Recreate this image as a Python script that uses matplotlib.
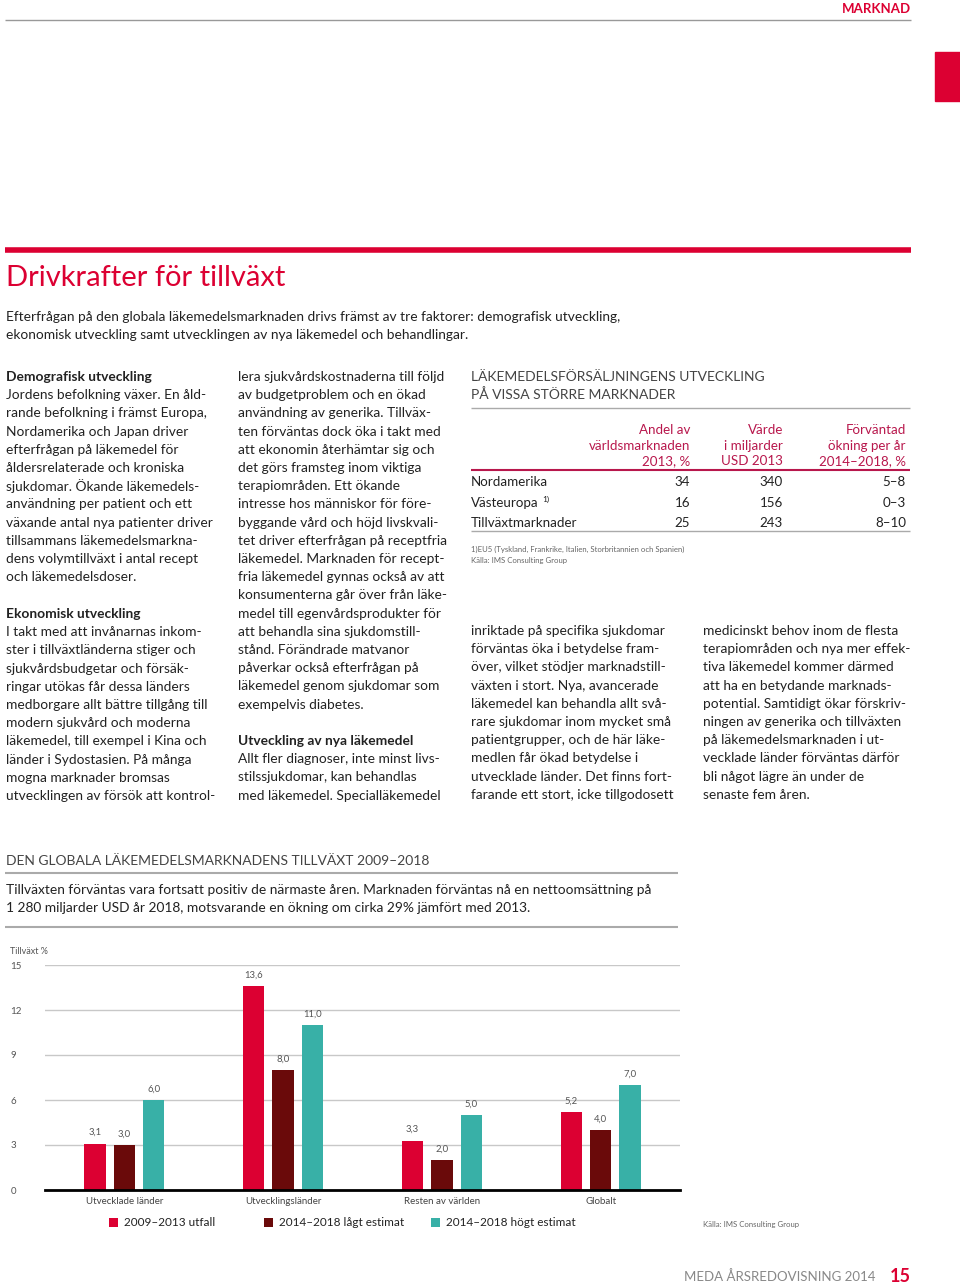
import matplotlib
matplotlib.use("Agg")
import matplotlib.pyplot as plt
from matplotlib.patches import Rectangle
import numpy as np

plt.rcParams['font.family'] = ['Lato', 'DejaVu Sans']

# --- data ---
categories = ["Utvecklade länder", "Utvecklingsländer", "Resten av världen", "Globalt"]
series_names = ["2009–2013 utfall", "2014–2018 lågt estimat", "2014–2018 högt estimat"]
utfall = [3.1, 13.6, 3.3, 5.2]
lagt = [3.0, 8.0, 2.0, 4.0]
hogt = [6.0, 11.0, 5.0, 7.0]
yticks = [0, 3, 6, 9, 12, 15]

table_rows = ["Nordamerika", "Västeuropa", "Tillväxtmarknader"]
andel = ["34", "16", "25"]
varde = ["340", "156", "243"]
okning = ["5–8", "0–3", "8–10"]

RED = "#dc0032"
DARK = "#6a0a0a"
TEAL = "#38b0a7"
HEAD = "#b8174c"
TXT = "#222222"
GRAY = "#999999"
BODY = 9.9

W, H = 960, 1287
fig = plt.figure(figsize=(W / 100, H / 100), dpi=100)


def fx(x):
    return x / W


def fy(y):
    return 1 - y / H


def T(x, y, s, **kw):
    kw.setdefault('va', 'center')
    kw.setdefault('color', TXT)
    kw.setdefault('fontsize', BODY)
    fig.text(fx(x), fy(y), s, **kw)


def hline(x0, x1, y, color, lw):
    fig.add_artist(plt.Line2D([fx(x0), fx(x1)], [fy(y), fy(y)], color=color, lw=lw,
                              solid_capstyle='butt', transform=fig.transFigure))


def para(x, y0, lines, step=18.2, bold_first=False):
    for i, ln in enumerate(lines):
        w = 'bold' if (bold_first and i == 0) else 'normal'
        T(x, y0 + i * step, ln, fontweight=w)


# header
T(911, 9, "MARKNAD", ha='right', color=RED, fontweight='bold', fontsize=9.5)
hline(5, 911, 20, "#999999", 1)
fig.add_artist(Rectangle((fx(935), fy(101)), fx(25), 49 / H, color=RED,
                         transform=fig.transFigure))
hline(5, 911, 250, RED, 4)
T(6, 278, "Drivkrafter för tillväxt", color=RED, fontsize=21)
para(6, 317, ["Efterfrågan på den globala läkemedelsmarknaden drivs främst av tre faktorer: demografisk utveckling,",
              "ekonomisk utveckling samt utvecklingen av nya läkemedel och behandlingar."])

# column 1
para(6, 377, ["Demografisk utveckling",
              "Jordens befolkning växer. En åld-",
              "rande befolkning i främst Europa,",
              "Nordamerika och Japan driver",
              "efterfrågan på läkemedel för",
              "åldersrelaterade och kroniska",
              "sjukdomar. Ökande läkemedels-",
              "användning per patient och ett",
              "växande antal nya patienter driver",
              "tillsammans läkemedelsmarkna-",
              "dens volymtillväxt i antal recept",
              "och läkemedelsdoser."], bold_first=True)
para(6, 614, ["Ekonomisk utveckling",
              "I takt med att invånarnas inkom-",
              "ster i tillväxtländerna stiger och",
              "sjukvårdsbudgetar och försäk-",
              "ringar utökas får dessa länders",
              "medborgare allt bättre tillgång till",
              "modern sjukvård och moderna",
              "läkemedel, till exempel i Kina och",
              "länder i Sydostasien. På många",
              "mogna marknader bromsas",
              "utvecklingen av försök att kontrol-"], bold_first=True)

# column 2
para(238, 377, ["lera sjukvårdskostnaderna till följd",
                "av budgetproblem och en ökad",
                "användning av generika. Tillväx-",
                "ten förväntas dock öka i takt med",
                "att ekonomin återhämtar sig och",
                "det görs framsteg inom viktiga",
                "terapiområden. Ett ökande",
                "intresse hos människor för före-",
                "byggande vård och höjd livskvali-",
                "tet driver efterfrågan på receptfria",
                "läkemedel. Marknaden för recept-",
                "fria läkemedel gynnas också av att",
                "konsumenterna går över från läke-",
                "medel till egenvårdsprodukter för",
                "att behandla sina sjukdomstill-",
                "stånd. Förändrade matvanor",
                "påverkar också efterfrågan på",
                "läkemedel genom sjukdomar som",
                "exempelvis diabetes."])
para(238, 741, ["Utveckling av nya läkemedel",
                "Allt fler diagnoser, inte minst livs-",
                "stilssjukdomar, kan behandlas",
                "med läkemedel. Specialläkemedel"], bold_first=True)

# columns 3 and 4
para(471, 631, ["inriktade på specifika sjukdomar",
                "förväntas öka i betydelse fram-",
                "över, vilket stödjer marknadstill-",
                "växten i stort. Nya, avancerade",
                "läkemedel kan behandla allt svå-",
                "rare sjukdomar inom mycket små",
                "patientgrupper, och de här läke-",
                "medlen får ökad betydelse i",
                "utvecklade länder. Det finns fort-",
                "farande ett stort, icke tillgodosett"])
para(703, 631, ["medicinskt behov inom de flesta",
                "terapiområden och nya mer effek-",
                "tiva läkemedel kommer därmed",
                "att ha en betydande marknads-",
                "potential. Samtidigt ökar förskriv-",
                "ningen av generika och tillväxten",
                "på läkemedelsmarknaden i ut-",
                "vecklade länder förväntas därför",
                "bli något lägre än under de",
                "senaste fem åren."])

# table
T(471, 377, "LÄKEMEDELSFÖRSÄLJNINGENS UTVECKLING", fontsize=10, color="#444444")
T(471, 395, "PÅ VISSA STÖRRE MARKNADER", fontsize=10, color="#444444")
hline(471, 910, 408, "#aaaaaa", 1)
col_x = [690, 783, 906]
heads = [["Andel av", "världsmarknaden", "2013, %"],
         ["Värde", "i miljarder", "USD 2013"],
         ["Förväntad", "ökning per år", "2014–2018, %"]]
for cx, hd in zip(col_x, heads):
    for j, h in enumerate(hd):
        T(cx, 430 + j * 15.5, h, ha='right', color=HEAD, fontsize=9.6)
hline(471, 910, 470, HEAD, 1.5)
for i, name in enumerate(table_rows):
    yy = 482 + i * 20.5
    T(471, yy, name, fontsize=9.6)
    if i == 1:
        T(542, yy - 3, "1)", fontsize=6)
    T(col_x[0], yy, andel[i], ha='right', fontsize=9.6)
    T(col_x[1], yy, varde[i], ha='right', fontsize=9.6)
    T(col_x[2], yy, okning[i], ha='right', fontsize=9.6)
hline(471, 910, 531, "#aaaaaa", 1)
T(471, 549, "1)EU5 (Tyskland, Frankrike, Italien, Storbritannien och Spanien)", fontsize=5.6, color="#666666")
T(471, 561, "Källa: IMS Consulting Group", fontsize=5.6, color="#666666")

# chart section
T(6, 861, "DEN GLOBALA LÄKEMEDELSMARKNADENS TILLVÄXT 2009–2018", fontsize=10, color="#444444")
hline(5, 678, 873, "#aaaaaa", 1.5)
para(6, 890, ["Tillväxten förväntas vara fortsatt positiv de närmaste åren. Marknaden förväntas nå en nettoomsättning på",
              "1 280 miljarder USD år 2018, motsvarande en ökning om cirka 29% jämfört med 2013."])
hline(5, 678, 927, "#aaaaaa", 1.5)

ax = fig.add_axes([fx(45), fy(1190), fx(680) - fx(45), 225 / H])
x = np.arange(len(categories))
bw = 0.135
off = 0.185
bars = []
for k, (vals, col) in enumerate(zip([utfall, lagt, hogt], [RED, DARK, TEAL])):
    b = ax.bar(x + (k - 1) * off, vals, bw, color=col, label=series_names[k], zorder=3)
    bars.append(b)
    for xi, v in zip(x + (k - 1) * off, vals):
        ax.text(xi, v + 0.45, f"{v:.1f}".replace('.', ','), ha='center', va='bottom',
                fontsize=6.8, color="#555555")
ax.set_xlim(-0.5, 3.5)
ax.set_ylim(0, 15)
ax.set_yticks(yticks)
ax.set_yticklabels([str(t) for t in yticks], fontsize=7, color="#555555")
for lbl in ax.get_yticklabels():
    lbl.set_ha('left')
ax.tick_params(axis='y', length=0, pad=25)
ax.set_xticks(x)
ax.set_xticklabels(categories, fontsize=7, color="#444444")
ax.tick_params(axis='x', length=0, pad=5)
ax.grid(axis='y', color="#c8c8c8", lw=1, zorder=0)
for s in ['top', 'right', 'left']:
    ax.spines[s].set_visible(False)
ax.spines['bottom'].set_color('black')
ax.spines['bottom'].set_linewidth(2)
ax.spines['bottom'].set_zorder(4)
T(10, 952, "Tillväxt %", fontsize=6.5, color="#555555")

# one legend entry per series, placed like the original
leg_x = [98, 253, 420]
for b, name, lx in zip(bars, series_names, leg_x):
    fig.legend(handles=[b], labels=[name], loc='center left',
               bbox_to_anchor=(fx(lx), fy(1223)), frameon=False,
               fontsize=8.5, handlelength=0.8, handleheight=0.8, handletextpad=0.5,
               labelcolor=TXT)

T(703, 1225, "Källa: IMS Consulting Group", fontsize=5.6, color="#666666")
T(876, 1277, "MEDA ÅRSREDOVISNING 2014", ha='right', fontsize=9.5, color="#888888")
T(911, 1276, "15", ha='right', fontsize=13, color=RED, fontweight='bold')

fig.savefig("out.png", dpi=100)
